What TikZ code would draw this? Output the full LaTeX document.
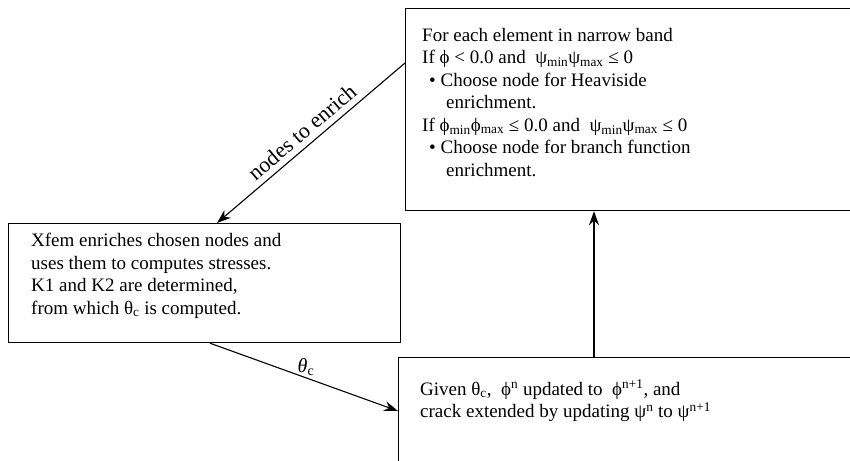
\documentclass[tikz,border=0pt]{standalone}
\usepackage{fontspec}
\setmainfont{Liberation Serif}
\usetikzlibrary{arrows.meta,calc}
\tikzset{
  box/.style={draw, line width=1.2pt, inner sep=0pt, anchor=north west},
  txt/.style={anchor=north west, align=left, inner sep=0pt, font=\fontsize{19}{22.5}\selectfont},
  lbl/.style={inner sep=0pt, font=\fontsize{22}{24}\selectfont},
  arr/.style={line width=1.1pt, -{Stealth[length=14pt,width=10pt]}},
}
\newcommand{\lo}[1]{\textsubscript{#1}}
\newcommand{\hi}[1]{\textsuperscript{#1}}
\begin{document}
\begin{tikzpicture}[x=1pt,y=-1pt]
\useasboundingbox (0,0) rectangle (850,460);
\clip (0,0) rectangle (850,460);
\fill[white] (0,0) rectangle (850,460);
% boxes
\node[box, minimum width=480pt, minimum height=202pt] (top) at (405,8) {};
\node[box, minimum width=392pt, minimum height=119pt] (left) at (8,223) {};
\node[box, minimum width=480pt, minimum height=130pt] (bot) at (398,357) {};
% texts
\node[txt] (toptext) at (422,28) {For each element in narrow band\\
If ϕ < 0.0 and\ \ ψ\lo{min}ψ\lo{max} ≤ 0\\
\hspace*{7pt}• Choose node for Heaviside\\
\hspace*{24pt}enrichment.\\
If ϕ\lo{min}ϕ\lo{max} ≤ 0.0 and\ \ ψ\lo{min}ψ\lo{max} ≤ 0\\
\hspace*{7pt}• Choose node for branch function\\
\hspace*{24pt}enrichment.};
\node[txt] (lefttext) at (31,233) {Xfem enriches chosen nodes and\\
uses them to computes stresses.\\
K1 and K2 are determined,\\
from which θ\lo{c} is computed.};
\node[txt] (bottext) at (420,380) {Given θ\lo{c},\ \ ϕ\hi{n} updated to\ \ ϕ\hi{n+1}, and\\
crack extended by updating ψ\hi{n} to ψ\hi{n+1}};
% connectors
\coordinate (a1s) at ($(top.north west)+(0,55)$);
\coordinate (a1e) at ($(left.north west)+(209,0)$);
\draw[arr] (a1s) -- (a1e);
\node[lbl, rotate=40.4] (l1) at ($(a1s)!0.5!(a1e)+(-9,-11)$) {nodes to enrich};
\coordinate (a2s) at ($(left.south west)+(202,0)$);
\coordinate (a2e) at ($(bot.north west)+(0,54)$);
\draw[arr] (a2s) -- (a2e) node[lbl, font=\fontsize{20}{22}\selectfont, above, pos=0.5, xshift=2pt, yshift=1pt] (l2) {\textit{θ}\lo{c}};
\coordinate (a3s) at ($(bot.north west)+(196,0)$);
\coordinate (a3e) at ($(top.south west)+(189,0)$);
\draw[arr] (a3s) -- (a3e);
\end{tikzpicture}
\end{document}
